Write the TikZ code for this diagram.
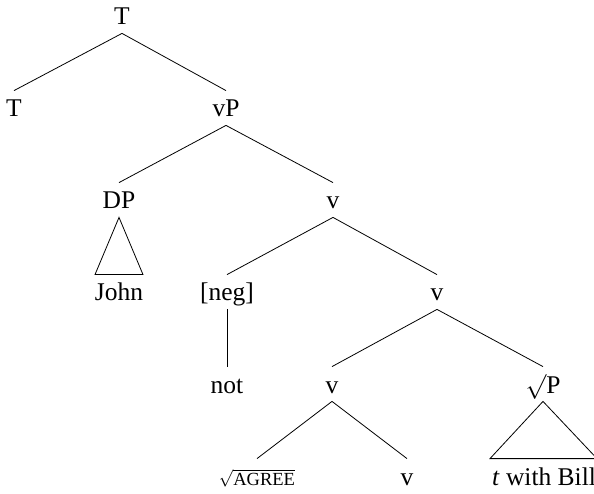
\documentclass[tikz,border=0pt]{standalone}
\usepackage{fontspec}
\setmainfont{Liberation Serif}
\usepackage{tikz}

\begin{document}
\begin{tikzpicture}[x=1pt,y=-1pt,line width=0.8pt,
    lbl/.style={anchor=base,inner sep=8pt,text height=18pt,text depth=0pt,
      font=\fontsize{25.5}{30}\selectfont}]
    \useasboundingbox (0,0) rectangle (594,494);
    % rows
    \node[lbl] (T) at (122,25) {T};
    \node[lbl] (Tleft) at (14,117) {T};
    \node[lbl] (vP) at (226,117) {vP};
    \node[lbl] (DP) at (119,209) {DP};
    \node[lbl] (vA) at (333,209) {v};
    \node[lbl] (john) at (119,301) {John};
    \node[lbl] (neg) at (227,301) {[neg]};
    \node[lbl] (vB) at (437,301) {v};
    \node[lbl] (not) at (227,393) {not};
    \node[lbl] (vC) at (332,393) {v};
    \node[lbl] (rootP) at (543,393) {$\surd$P};
    \node[lbl] (agree) at (257,485) {\fontsize{18.5}{22}\selectfont$\sqrt{\mbox{AGREE}}$};
    \node[lbl] (vD) at (407,485) {v};
    \node[lbl] (bill) at (544,485) {\textit{t} with Bill};

    \draw (T.south) -- (Tleft.north);
    \draw (T.south) -- (vP.north);
    \draw (vP.south) -- (DP.north);
    \draw (vP.south) -- (vA.north);
    \draw (DP.south) -- ([xshift=-24pt]john.north) -- ([xshift=24pt]john.north) -- cycle;
    \draw (vA.south) -- (neg.north);
    \draw (vA.south) -- (vB.north);
    \draw (neg.south) -- (not.north);
    \draw (vB.south) -- (vC.north);
    \draw (vB.south) -- (rootP.north);
    \draw (vC.south) -- (agree.north);
    \draw (vC.south) -- (vD.north);
    \draw (rootP.south) -- ([xshift=-54pt]bill.north) -- ([xshift=53pt]bill.north) -- cycle;
\end{tikzpicture}
\end{document}
